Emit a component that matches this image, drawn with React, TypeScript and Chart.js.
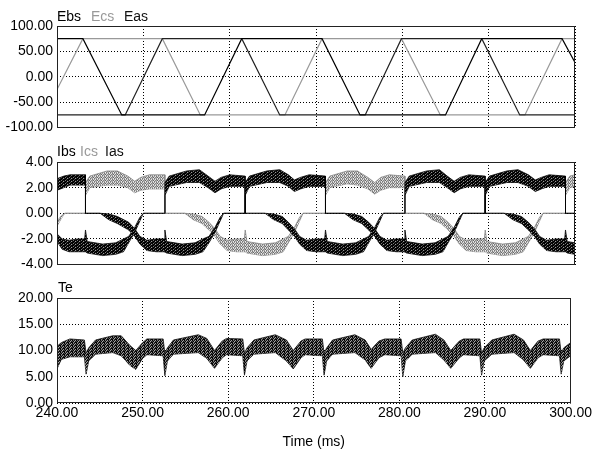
import React, { useEffect, useRef } from 'react';
import { Chart, registerables } from 'chart.js';

Chart.register(...registerables);

const FONT = "'Liberation Sans', Arial, Helvetica, sans-serif";

// ---- axis ticks ----
const timeTicks = [240, 250, 260, 270, 280, 290, 300];
const emfTicks = [-100, -50, 0, 50, 100];
const curTicks = [-4, -2, 0, 2, 4];
const teTicks = [0, 5, 10, 15, 20];

// ---- back EMF corner points (time ms, volts) ----
const ebsT = [240, 243.0, 247.5, 257.1, 261.4, 270.7, 275.1, 285.0, 289.2, 298.5, 300];
const ebsV = [75, 75, -75, -75, 75, 75, -75, -75, 75, 75, 28];
const ecsT = [240, 243.0, 252.2, 256.6, 266.4, 270.7, 279.9, 284.4, 294.2, 298.5, 300];
const ecsV = [-25, 75, 75, -75, -75, 75, 75, -75, -75, 75, 75];
const easT = [240, 247.9, 252.2, 261.4, 265.8, 275.7, 279.9, 289.2, 293.6, 300];
const easV = [-75, -75, 75, 75, -75, -75, 75, 75, -75, -75];

// ---- phase current ripple envelopes [time, upper, lower] ----
const ibsBand = [
  [240, 2.7, 1.8], [240.8, 2.9, 2.0], [241.5, 3.0, 2.2], [243.3, 3.0, 2.2], [243.3, 0, 0],
  [245.0, 0, 0], [246.0, -0.05, -0.5], [247.0, -0.25, -0.8], [248.3, -0.7, -1.3], [249.0, -1.2, -1.8],
  [249.6, -1.8, -2.4], [250.4, -2.1, -2.9], [251.5, -2.0, -3.0], [252.4, -2.0, -3.0], [252.5, -1.3, -3.0],
  [252.7, -2.2, -3.1], [254.5, -2.4, -3.3], [256.0, -2.3, -3.2], [256.9, -2.0, -3.0], [257.6, -1.8, -2.3],
  [258.3, -1.1, -1.5], [258.9, -0.3, -0.6], [259.3, 0, 0], [261.8, 0, 0], [261.8, 2.4, 1.4],
  [262.3, 2.9, 2.1], [264.3, 3.3, 2.4], [265.8, 3.4, 2.4], [266.8, 3.0, 2.1], [267.5, 2.6, 1.7],
  [268.2, 2.8, 1.9], [269.2, 3.0, 2.1], [271.1, 2.9, 2.1], [271.1, 0, 0], [273.3, 0, 0],
  [274.3, -0.05, -0.5], [275.3, -0.25, -0.8], [276.1, -0.7, -1.3], [276.8, -1.2, -1.8], [277.4, -1.8, -2.4],
  [278.2, -2.1, -2.9], [279.3, -2.0, -3.0], [280.2, -2.0, -3.0], [280.3, -1.3, -3.0], [280.5, -2.2, -3.1],
  [282.3, -2.4, -3.3], [283.8, -2.3, -3.2], [284.7, -2.0, -3.0], [285.3, -1.8, -2.3], [286.0, -1.1, -1.5],
  [286.6, -0.3, -0.6], [287.0, 0, 0], [289.6, 0, 0], [289.6, 2.4, 1.4], [290.1, 2.9, 2.1],
  [292.1, 3.3, 2.4], [293.4, 3.4, 2.4], [294.6, 3.0, 2.1], [295.4, 2.6, 1.7], [296.1, 2.8, 1.9],
  [297.0, 3.0, 2.1], [298.9, 2.9, 2.1], [298.9, 0, 0], [300, 0, 0],
];
const icsBand = [
  [240, -0.6, -1.0], [240.5, -0.2, -0.4], [240.9, 0, 0], [243.3, 0, 0], [243.3, 2.4, 1.4],
  [243.8, 2.9, 2.0], [245.8, 3.3, 2.2], [247.0, 3.3, 2.2], [248.2, 2.9, 2.0], [249.0, 2.5, 1.6],
  [249.7, 2.8, 1.8], [250.7, 3.0, 1.9], [252.5, 3.0, 1.9], [252.5, 0, 0], [254.8, 0, 0],
  [255.8, -0.05, -0.5], [256.8, -0.25, -0.8], [257.6, -0.7, -1.3], [258.3, -1.2, -1.8], [258.9, -1.8, -2.4],
  [259.7, -2.1, -2.9], [260.8, -2.0, -3.0], [261.7, -2.0, -3.0], [261.8, -1.3, -3.0], [262.0, -2.2, -3.1],
  [263.8, -2.4, -3.3], [265.3, -2.3, -3.2], [266.2, -2.0, -3.0], [266.8, -1.8, -2.3], [267.5, -1.1, -1.5],
  [268.1, -0.3, -0.6], [268.5, 0, 0], [271.1, 0, 0], [271.1, 2.4, 1.4], [271.6, 2.9, 2.0],
  [273.6, 3.3, 2.3], [274.8, 3.3, 2.2], [276.0, 2.8, 1.9], [276.8, 2.4, 1.5], [277.5, 2.8, 1.8],
  [278.5, 3.0, 2.0], [280.3, 2.9, 2.0], [280.3, 0, 0], [282.5, 0, 0], [283.5, -0.05, -0.5],
  [284.5, -0.25, -0.8], [285.3, -0.7, -1.3], [286.0, -1.2, -1.8], [286.6, -1.8, -2.4], [287.4, -2.1, -2.9],
  [288.5, -2.0, -3.0], [289.5, -2.0, -3.0], [289.6, -1.3, -3.0], [289.8, -2.2, -3.1], [291.6, -2.4, -3.3],
  [293.1, -2.3, -3.2], [294.0, -2.0, -3.0], [294.6, -1.8, -2.3], [295.3, -1.1, -1.5], [295.9, -0.3, -0.6],
  [296.3, 0, 0], [298.9, 0, 0], [298.9, 2.4, 1.4], [299.4, 2.9, 2.0], [300, 3.0, 2.1],
];
const iasBand = [
  [240, -1.6, -2.2], [240.6, -2.0, -2.8], [241.4, -2.1, -3.0], [242.4, -2.0, -3.0], [243.2, -2.0, -3.0],
  [243.3, -1.3, -3.0], [243.5, -2.2, -3.1], [245.3, -2.4, -3.3], [246.8, -2.3, -3.2], [247.7, -2.0, -3.0],
  [248.3, -1.8, -2.3], [249.0, -1.1, -1.5], [249.6, -0.3, -0.6], [250.0, 0, 0], [252.5, 0, 0],
  [252.5, 2.4, 1.4], [253.0, 2.9, 2.1], [255.0, 3.3, 2.4], [256.5, 3.4, 2.4], [257.5, 2.9, 2.0],
  [258.3, 2.5, 1.6], [259.0, 2.8, 1.9], [260.0, 3.0, 2.1], [261.8, 2.9, 2.1], [261.8, 0, 0],
  [264.1, 0, 0], [265.1, -0.05, -0.5], [266.1, -0.25, -0.8], [266.8, -0.7, -1.3], [267.5, -1.2, -1.8],
  [268.1, -1.8, -2.4], [268.9, -2.1, -2.9], [270.0, -2.0, -3.0], [271.0, -2.0, -3.0], [271.1, -1.3, -3.0],
  [271.3, -2.2, -3.1], [273.1, -2.4, -3.3], [274.6, -2.3, -3.2], [275.5, -2.0, -3.0], [276.1, -1.8, -2.3],
  [276.8, -1.1, -1.5], [277.4, -0.3, -0.6], [277.8, 0, 0], [280.3, 0, 0], [280.3, 2.4, 1.4],
  [280.8, 2.9, 2.1], [282.8, 3.3, 2.4], [284.3, 3.4, 2.4], [285.2, 2.9, 2.0], [286.0, 2.5, 1.6],
  [286.7, 2.8, 1.9], [287.7, 3.0, 2.1], [289.6, 2.9, 2.1], [289.6, 0, 0], [291.8, 0, 0],
  [292.8, -0.05, -0.5], [293.8, -0.25, -0.8], [294.6, -0.7, -1.3], [295.3, -1.2, -1.8], [295.9, -1.8, -2.4],
  [296.7, -2.1, -2.9], [297.8, -2.0, -3.0], [298.8, -2.0, -3.0], [298.9, -1.3, -3.0], [299.1, -2.2, -3.1],
  [300, -2.3, -3.2],
];

// ---- electromagnetic torque ripple envelope [time, upper, lower] ----
const teBand = [
  [240.0, 10.8, 6.5], [240.5, 11.5, 8.3], [241.5, 12.2, 8.8], [243.2, 12.0, 8.8], [243.4, 9.5, 5.5],
  [243.7, 10.5, 8.0], [244.5, 12.0, 9.3], [246.5, 12.8, 9.6], [247.5, 12.8, 9.0], [248.5, 11.0, 7.2],
  [249.2, 10.0, 6.4], [250.0, 11.5, 8.5], [250.5, 12.2, 9.2], [252.4, 12.2, 9.0], [252.6, 9.5, 5.2],
  [252.9, 10.5, 8.0], [253.6, 12.0, 9.3], [256.5, 13.0, 9.6], [257.5, 12.3, 8.5], [258.4, 10.0, 6.6],
  [259.3, 11.8, 8.6], [259.8, 12.3, 9.2], [261.7, 12.2, 9.0], [261.9, 9.5, 5.3], [262.2, 10.5, 8.0],
  [263.0, 12.0, 9.3], [265.5, 13.0, 9.6], [266.8, 12.0, 8.0], [267.6, 10.0, 6.5], [268.5, 11.8, 8.6],
  [269.0, 12.2, 9.2], [271.0, 12.2, 9.0], [271.2, 9.5, 5.3], [271.5, 10.5, 8.0], [272.2, 12.0, 9.3],
  [274.8, 13.0, 9.6], [276.0, 12.0, 8.2], [276.7, 10.2, 6.6], [277.6, 11.8, 8.6], [278.3, 12.2, 9.2],
  [280.2, 12.2, 9.0], [280.4, 9.5, 5.0], [280.7, 10.5, 8.0], [281.5, 12.0, 9.3], [284.2, 13.1, 9.6],
  [285.2, 12.0, 8.2], [286.0, 10.0, 6.6], [287.0, 11.8, 8.6], [287.5, 12.2, 9.2], [289.4, 12.2, 9.0],
  [289.6, 9.5, 5.3], [289.9, 10.5, 8.0], [290.8, 12.0, 9.3], [293.4, 13.1, 9.6], [294.5, 12.0, 8.2],
  [295.3, 10.0, 6.6], [296.2, 11.8, 8.6], [296.8, 12.2, 9.2], [298.7, 12.2, 9.0], [298.9, 9.5, 5.5],
  [299.2, 10.5, 8.0], [300.0, 11.5, 9.0],
];

const fmt2 = (v: any) => Number(v).toFixed(2);

function makePattern(rows: string[][]) {
  const c = document.createElement('canvas');
  c.width = rows[0].length;
  c.height = rows.length;
  const g = c.getContext('2d')!;
  rows.forEach((r, y) => r.forEach((col, x) => { g.fillStyle = col; g.fillRect(x, y, 1, 1); }));
  return g.createPattern(c, 'repeat');
}

const framePlugin = {
  id: 'frame',
  afterDatasetsDraw(chart: any) {
    const { ctx, chartArea: a } = chart;
    ctx.save();
    ctx.strokeStyle = '#222';
    ctx.lineWidth = 1;
    ctx.strokeRect(Math.round(a.left) + 0.5, Math.round(a.top) + 0.5, Math.round(a.right - a.left) - 1, Math.round(a.bottom - a.top) - 1);
    ctx.restore();
  },
};

function xScale(showLabels: boolean, height: number) {
  return {
    type: 'linear',
    min: timeTicks[0],
    max: timeTicks[timeTicks.length - 1],
    afterBuildTicks: (s: any) => { s.ticks = timeTicks.map((v) => ({ value: v })); },
    afterFit: (s: any) => { s.height = height; },
    grid: { color: '#000', lineWidth: 1, drawTicks: false },
    border: { display: false, dash: [1, 2] },
    ticks: {
      display: showLabels, maxRotation: 0, autoSkip: false, padding: 3, color: '#000',
      font: { family: FONT, size: 14, lineHeight: 1 }, callback: fmt2,
    },
    title: {
      display: showLabels, text: 'Time (ms)', color: '#000',
      font: { family: FONT, size: 14, lineHeight: 1.2 }, padding: { top: 0, bottom: 1 },
    },
  };
}

function yScale(arr: number[]) {
  return {
    type: 'linear',
    min: arr[0],
    max: arr[arr.length - 1],
    afterBuildTicks: (s: any) => { s.ticks = arr.map((v) => ({ value: v })); },
    afterFit: (s: any) => { s.width = 57; },
    grid: { color: '#000', lineWidth: 1, drawTicks: false },
    border: { display: false, dash: [1, 2] },
    ticks: { color: '#000', padding: 4, font: { family: FONT, size: 14 }, callback: fmt2 },
  };
}

function lineSet(t: number[], v: number[], color: string, order: number) {
  return {
    data: t.map((x, i) => ({ x, y: v[i] })),
    borderColor: color, borderWidth: 1.2, pointRadius: 0, tension: 0, fill: false, order,
  };
}

function bandSets(band: number[][], line: string, pattern: any, order: number) {
  return [
    {
      data: band.map((p) => ({ x: p[0], y: p[1] })),
      borderColor: line, borderWidth: 0.8, backgroundColor: pattern, fill: '+1',
      pointRadius: 0, tension: 0, order,
    },
    {
      data: band.map((p) => ({ x: p[0], y: p[2] })),
      borderColor: line, borderWidth: 0.8, fill: false, pointRadius: 0, tension: 0, order,
    },
  ];
}

function baseOptions(pad: any, xs: any, ys: any) {
  return {
    animation: false,
    responsive: false,
    maintainAspectRatio: false,
    events: [],
    layout: { padding: pad },
    plugins: { legend: { display: false }, tooltip: { enabled: false } },
    scales: { x: xs, y: ys },
  };
}

const W = 595;
const H1 = 140, H2 = 137, H3 = 175;

export default function App() {
  const r1 = useRef<HTMLCanvasElement>(null);
  const r2 = useRef<HTMLCanvasElement>(null);
  const r3 = useRef<HTMLCanvasElement>(null);

  useEffect(() => {
    const dark = makePattern([
      ['#000', '#000', '#444', '#000'],
      ['#000', '#777', '#000', '#111'],
      ['#222', '#000', '#000', '#999'],
    ]);
    const gray = makePattern([
      ['#777', '#ccc', '#999', '#e6e6e6'],
      ['#aaa', '#666', '#ddd', '#888'],
      ['#999', '#eee', '#777', '#bbb'],
    ]);
    const tex = makePattern([
      ['#000', '#666', '#111', '#999'],
      ['#444', '#000', '#aaa', '#222'],
      ['#000', '#888', '#333', '#000'],
    ]);

    const c1 = new Chart(r1.current as any, {
      type: 'line',
      data: {
        datasets: [
          lineSet(ebsT, ebsV, '#000', 0),
          lineSet(easT, easV, '#222', 1),
          lineSet(ecsT, ecsV, '#999', 2),
        ] as any,
      },
      options: baseOptions({ left: 0, right: 20, top: 26, bottom: 9 }, xScale(false, 0), yScale(emfTicks)) as any,
      plugins: [framePlugin],
    });

    const c2 = new Chart(r2.current as any, {
      type: 'line',
      data: {
        datasets: [
          ...bandSets(icsBand, '#888', gray, 3),
          ...bandSets(iasBand, '#111', dark, 2),
          ...bandSets(ibsBand, '#000', dark, 1),
        ] as any,
      },
      options: baseOptions({ left: 0, right: 20, top: 22, bottom: 10 }, xScale(false, 0), yScale(curTicks)) as any,
      plugins: [framePlugin],
    });

    const c3 = new Chart(r3.current as any, {
      type: 'line',
      data: { datasets: [...bandSets(teBand, '#111', tex, 1)] as any },
      options: baseOptions({ left: 0, right: 20, top: 21, bottom: 0 }, xScale(true, 49), yScale(teTicks)) as any,
      plugins: [framePlugin],
    });

    return () => { c1.destroy(); c2.destroy(); c3.destroy(); };
  }, []);

  const word = (text: string, left: number, top: number, color: string) => (
    <span style={{ position: 'absolute', left, top, color, fontSize: 14, lineHeight: '14px', whiteSpace: 'nowrap' }}>{text}</span>
  );

  return (
    <div style={{ position: 'absolute', left: 0, top: 0, width: W, height: 452, background: '#fff', fontFamily: FONT, overflow: 'hidden' }}>
      <canvas ref={r1} width={W} height={H1} style={{ position: 'absolute', left: 0, top: 0, width: W, height: H1 }} />
      <canvas ref={r2} width={W} height={H2} style={{ position: 'absolute', left: 0, top: 140, width: W, height: H2 }} />
      <canvas ref={r3} width={W} height={H3} style={{ position: 'absolute', left: 0, top: 277, width: W, height: H3 }} />
      {word('Ebs', 57, 9, '#000')}
      {word('Ecs', 91, 9, '#999')}
      {word('Eas', 124, 9, '#111')}
      {word('Ibs', 57, 144, '#000')}
      {word('Ics', 80, 144, '#999')}
      {word('Ias', 105, 144, '#111')}
      {word('Te', 58, 280, '#000')}
    </div>
  );
}
